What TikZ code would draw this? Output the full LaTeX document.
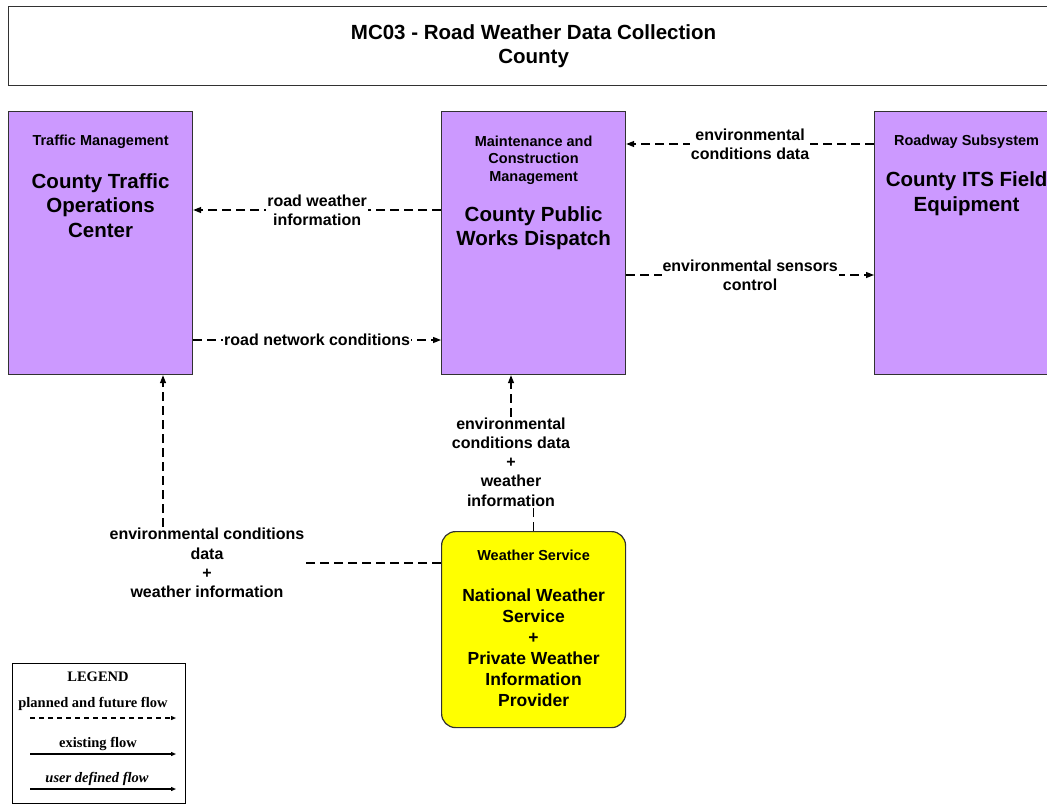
\documentclass[tikz,border=0pt]{standalone}
\usepackage{fontspec}
\setmainfont{Liberation Sans}
\newfontfamily\legfont{Liberation Serif}
\usetikzlibrary{arrows.meta,positioning}
\definecolor{cpurple}{RGB}{204,153,255}
\definecolor{cyellow}{RGB}{255,255,0}
\definecolor{cedge}{RGB}{50,50,50}
\tikzset{
  pxgrid/.style={x=1pt,y=-1pt,font=\bfseries},
  titlebox/.style={draw=cedge,line width=1.2pt,anchor=north west,minimum width=1050pt,minimum height=79pt,
    align=center,font=\fontsize{20.5}{24}\selectfont\bfseries},
  sysbox/.style={draw=cedge,line width=1.2pt,fill=cpurple,anchor=north west,minimum width=184pt,minimum height=263pt,inner sep=0pt},
  cattext/.style={align=center,inner sep=0pt,font=\fontsize{14.5}{17.5}\selectfont\bfseries},
  elemtext/.style={align=center,inner sep=0pt,font=\fontsize{20.5}{24.5}\selectfont\bfseries},
  wstext/.style={align=center,inner sep=0pt,font=\fontsize{17.5}{21}\selectfont\bfseries},
  flowlabel/.style={fill=white,align=center,inner sep=1pt,font=\fontsize{16}{19.2}\selectfont\bfseries},
  plannedline/.style={draw=black,line width=1.3pt,dash pattern=on 9pt off 5pt},
  planned/.style={plannedline,-{Triangle[length=8pt,width=6pt]}},
  legbox/.style={draw=black,line width=1.2pt,anchor=north west,minimum width=173pt,minimum height=140pt},
  legtext/.style={inner sep=0pt,font=\legfont\fontsize{14.5}{16}\selectfont\bfseries},
  legarrow/.style={line width=1.2pt,-{Triangle[length=5pt,width=4pt]}}
}
\begin{document}
\begin{tikzpicture}[pxgrid]
  \useasboundingbox (0,0) rectangle (1047,804);
  % title
  \node[titlebox] (title) at (8,6) {MC03 - Road Weather Data Collection\\County};
  % subsystems
  \node[sysbox] (tmc) at (8,111) {};
  \node[sysbox] (mcm) at (441,111) {};
  \node[sysbox] (rse) at (874,111) {};
  \node[sysbox,fill=cyellow,rounded corners=14pt,minimum height=196pt] (nws) at (441,531) {};
  \node[cattext] (tmcCat) at ([yshift=-31]tmc.north) {Traffic Management};
  \node[elemtext] (tmcName) at ([yshift=-94.5]tmc.north) {County Traffic\\Operations\\Center};
  \node[cattext] (mcmCat) at ([yshift=-49]mcm.north) {Maintenance and\\Construction\\Management};
  \node[elemtext] (mcmName) at ([yshift=-117]mcm.north) {County Public\\Works Dispatch};
  \node[cattext] (rseCat) at ([yshift=-31]rse.north) {Roadway Subsystem};
  \node[elemtext] (rseName) at ([yshift=-82.5]rse.north) {County ITS Field\\Equipment};
  \node[cattext] (nwsCat) at ([yshift=-24]nws.north) {Weather Service};
  \node[wstext] (nwsName) at ([yshift=-116.5]nws.north) {National Weather\\Service\\+\\Private Weather\\Information\\Provider};
  % flows
  \draw[planned] ([yshift=-99]mcm.north west) -- node[flowlabel] (rwiLbl) {road weather\\information} ([yshift=-99]tmc.north east);
  \draw[planned] ([yshift=-229]tmc.north east) -- node[flowlabel] (rncLbl) {road network conditions} ([yshift=-229]mcm.north west);
  \draw[planned] ([yshift=-33]rse.north west) -- node[flowlabel] (ecdLbl) {environmental\\conditions data} ([yshift=-33]mcm.north east);
  \draw[planned] ([yshift=-164]mcm.north east) -- node[flowlabel] (escLbl) {environmental sensors\\control} ([yshift=-164]rse.north west);
  \node[flowlabel] (ecmLbl) at (511,462) {environmental\\conditions data\\+\\weather\\information};
  \draw[plannedline] (nws.north) -- (nws.north |- ecmLbl.south);
  \draw[planned] (ecmLbl.north) -- (ecmLbl.north |- mcm.south);
  \node[flowlabel] (ecwLbl) at (207,563) {environmental conditions\\data\\+\\weather information};
  \coordinate (ecwTop) at ([xshift=-44]ecwLbl.north);
  \draw[plannedline] (nws.west |- ecwLbl.east) -- (ecwLbl.east);
  \draw[planned] (ecwTop) -- (ecwTop |- tmc.south);
  % legend
  \node[legbox] (legend) at (12,663) {};
  \node[legtext] (legTitle) at (98,677) {LEGEND};
  \node[legtext] (legPlan) at (93,704) {planned and future flow};
  \node[legtext] (legExist) at (98,744) {existing flow};
  \node[legtext,font=\legfont\fontsize{14.5}{16}\selectfont\bfseries\itshape] (legUser) at (97,779) {user defined flow};
  \coordinate (planA) at (30,718);  \coordinate (planB) at (176,718);
  \coordinate (existA) at (30,754); \coordinate (existB) at (176,754);
  \coordinate (userA) at (30,789);  \coordinate (userB) at (176,789);
  \draw[legarrow,dash pattern=on 5pt off 4pt] (planA) -- (planB);
  \draw[legarrow] (existA) -- (existB);
  \draw[legarrow] (userA) -- (userB);
\end{tikzpicture}
\end{document}
